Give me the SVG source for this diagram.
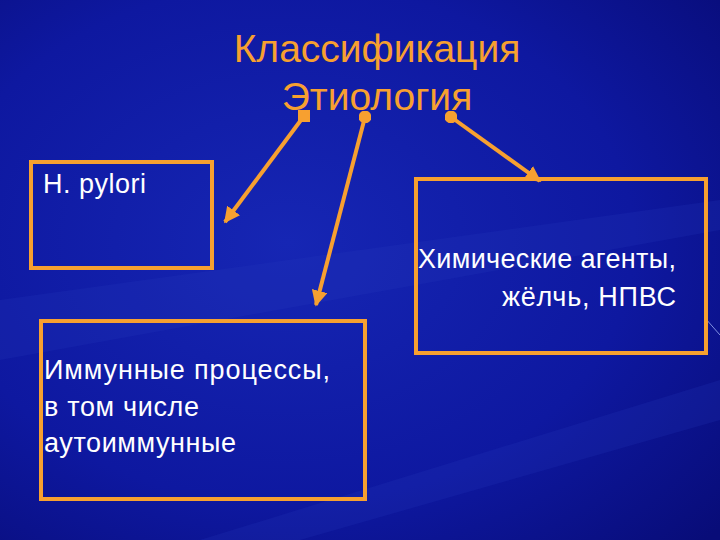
<svg xmlns="http://www.w3.org/2000/svg" width="720" height="540" viewBox="0 0 720 540">
<defs>
<radialGradient id="bg" cx="0.4" cy="0.45" r="0.8">
<stop offset="0" stop-color="#1626b4"/>
<stop offset="0.6" stop-color="#0e18a0"/>
<stop offset="1" stop-color="#080c78"/>
</radialGradient>
<marker id="ah" viewBox="0 0 10 10" refX="9" refY="5" markerWidth="4" markerHeight="4" orient="auto" markerUnits="strokeWidth"><path d="M0,0 L10,5 L0,10 z" fill="#f7a030"/></marker>
<marker id="dot" viewBox="0 0 10 10" refX="5" refY="5" markerWidth="3.2" markerHeight="3.2" markerUnits="strokeWidth"><circle cx="5" cy="5" r="5" fill="#f7a030"/></marker>
<marker id="sq" viewBox="0 0 10 10" refX="5" refY="5" markerWidth="3" markerHeight="3" markerUnits="strokeWidth"><rect width="10" height="10" fill="#f7a030"/></marker>
<style>
.box{fill:none;stroke:#f7a030;stroke-width:4}
.t{font-family:"Liberation Sans",Arial,sans-serif;font-size:27px;fill:#ffffff}
.title{font-family:"Liberation Sans",Arial,sans-serif;font-size:39px;fill:#f7a030;text-anchor:middle}
.c{stroke:#f7a030;stroke-width:4;fill:none}
</style>
</defs>
<rect width="720" height="540" fill="url(#bg)"/>
<path d="M0,300 L720,200 L720,230 L0,360z" fill="#2a3ac0" opacity="0.2"/>
<path d="M200,540 L720,380 L720,420 L300,540z" fill="#2a3ac0" opacity="0.2"/>
<line x1="705" y1="318" x2="720" y2="335" stroke="#8090e0" stroke-width="1"/>
<g id="title">
<text class="title" x="377" y="62">Классификация</text>
<text class="title" x="377" y="110">Этиология</text>
</g>
<g id="connectors">
<line class="c" x1="304" y1="116" x2="225" y2="222" marker-start="url(#sq)" marker-end="url(#ah)"/>
<line class="c" x1="365" y1="117" x2="316" y2="305" marker-start="url(#dot)" marker-end="url(#ah)"/>
<line class="c" x1="451" y1="117" x2="540" y2="181" marker-start="url(#dot)" marker-end="url(#ah)"/>
</g>
<g id="hpylori">
<rect class="box" x="31" y="162" width="181" height="106"/>
<text class="t" x="43" y="193" textLength="103">H. pylori</text>
</g>
<g id="chem">
<rect class="box" x="416" y="179" width="290" height="174"/>
<text class="t" x="418" y="268" textLength="258">Химические агенты,</text>
<text class="t" x="502" y="306" textLength="174">жёлчь, НПВС</text>
</g>
<g id="immune">
<rect class="box" x="41" y="321" width="324" height="178"/>
<text class="t" x="44" y="379" textLength="286">Иммунные процессы,</text>
<text class="t" x="44" y="416" textLength="155">в том числе</text>
<text class="t" x="44" y="452" textLength="192">аутоиммунные</text>
</g>
</svg>
